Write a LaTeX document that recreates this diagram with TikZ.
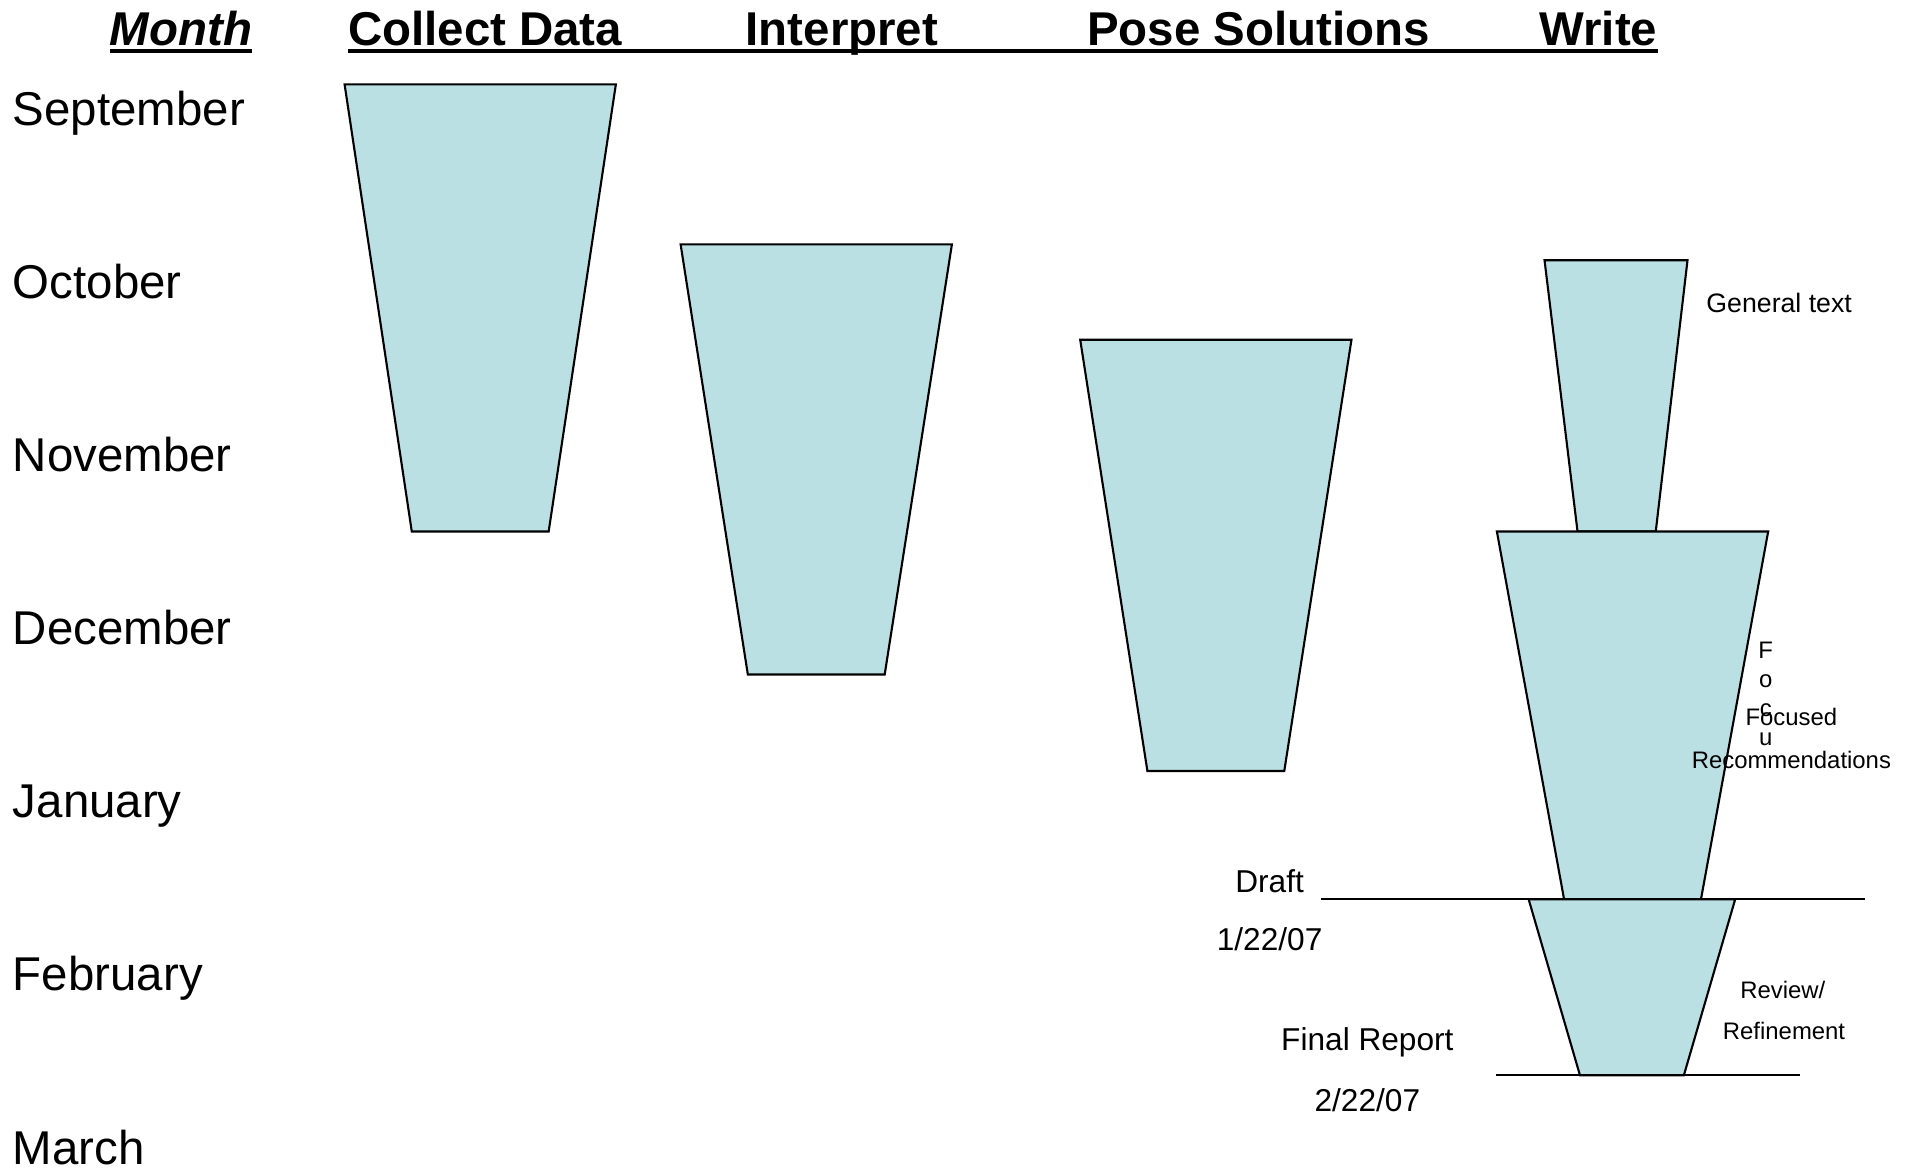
\documentclass[tikz,border=0pt]{standalone}
\usepackage{fontspec}
\setmainfont{Liberation Sans}
\usepackage{tikz}
\usetikzlibrary{positioning}
\definecolor{phasefill}{RGB}{187,224,227}
\tikzset{month node/.style={anchor=base west,inner sep=0pt,font=\fontsize{13.5}{16}\selectfont},
  head node/.style={anchor=base,inner sep=0pt,font=\fontsize{13.5}{16}\selectfont\bfseries},
  phase/.style={draw,fill=phasefill,line width=0.6pt,line join=miter},
  mile node/.style={inner sep=0pt,font=\fontsize{9}{11}\selectfont},
  note node/.style={inner sep=0pt,font=\fontsize{6.8}{8}\selectfont},}

\begin{document}
\begin{tikzpicture}[x=0.012219cm, y=-0.012219cm]
        \useasboundingbox (0,0) rectangle (1568,958.3);
        % Header
        \node[head node] (month) at (148,37) {\itshape Month};
        \node[head node] (collect) at (397,37) {Collect Data};
        \node[head node] (interp) at (689,37) {Interpret};
        \node[head node] (pose) at (1030,37) {Pose Solutions};
        \node[head node] (write) at (1308,37) {Write};
        \draw[line width=1.1pt] (90,42) -- (206,42);
        \draw[line width=1.1pt] (285,42) -- (1357,42);
        % Months
        \foreach \m [count=\i from 0] in {September,October,November,December,January,February,March}
            \node[month node] (m\i) at (10,103+141.6*\i) {\m};
        % Phases
        \draw[phase] (282,69) -- (504,69) -- (449,435) -- (337,435) -- cycle;
        \draw[phase] (557,200) -- (779,200) -- (724,552) -- (612,552) -- cycle;
        \draw[phase] (884,278) -- (1106,278) -- (1051,631) -- (939,631) -- cycle;
        \draw[phase] (1264,213) -- (1381,213) -- (1355,435) -- (1291,435) -- cycle;
        \draw[phase] (1225,435) -- (1447,435) -- (1392,736) -- (1280,736) -- cycle;
        \draw[phase] (1251,736) -- (1420,736) -- (1378,880) -- (1293,880) -- cycle;
        % Milestones
        \draw[line width=0.6pt] (1081,736) -- (1526,736);
        \draw[line width=0.6pt] (1224,880) -- (1473,880);
        \node[mile node] (draft) at (1039,721) {Draft};
        \node[mile node] (draftdate) at (1039,769) {1/22/07};
        \node[mile node] (final) at (1119,853) {Final Report};
        \node[mile node] (finaldate) at (1119,900) {2/22/07};
        % Notes
        \node[note node,font=\fontsize{7.6}{9}\selectfont] (general) at (1456,248) {General text};
        \foreach \c [count=\i from 0] in {F,o,c,u}
            \node[note node,anchor=base] (foc\i) at (1445,539+23.7*\i) {\c};
        \node[note node] (focused) at (1466,587) {Focused};
        \node[note node] (recom) at (1466,622) {Recommendations};
        \node[note node] (review) at (1459,810) {Review/};
        \node[note node] (refine) at (1460,844) {Refinement};
    \end{tikzpicture}
\end{document}
